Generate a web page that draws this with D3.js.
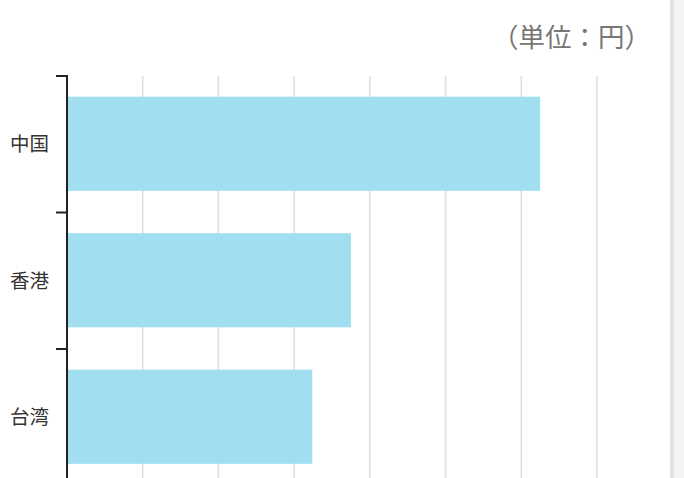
<!DOCTYPE html>
<html lang="ja">
<head>
    <meta charset="UTF-8">
    <title>単位：円</title>
    <script src="https://d3js.org/d3.v7.min.js"></script>
    <style>
        body { margin: 0; background: #fff; }
        svg { display: block; font-family: "Noto Sans CJK JP", "Noto Sans", sans-serif; }
    </style>
</head>
<body>
    <svg id="chart" width="684" height="478"></svg>
    <script>
        // Data
        const categories = ["中国", "香港", "台湾"];
        const values = [6250, 3750, 3240];
        const gridTicks = [1000, 2000, 3000, 4000, 5000, 6000, 7000];
        const unitLabel = "（単位：円）";

        const svg = d3.select("#chart");

        // Scales
        const xScale = d3.scaleLinear()
            .domain([0, 8000])
            .range([67, 672.7]);

        const yScale = d3.scaleBand()
            .domain(categories)
            .range([76, 485.5])
            .paddingInner(0.31)
            .paddingOuter(0.155);

        const step = yScale.step();
        const yTop = yScale.range()[0];

        // right side panel (page edge)
        svg.append("rect")
            .attr("x", 670)
            .attr("y", 0)
            .attr("width", 14)
            .attr("height", 478)
            .attr("fill", "#f4f4f4");
        svg.append("rect")
            .attr("x", 670)
            .attr("y", 0)
            .attr("width", 4)
            .attr("height", 478)
            .attr("fill", "#e2e2e2");

        // grid lines
        svg.selectAll(".grid")
            .data(gridTicks)
            .enter()
            .append("line")
            .attr("class", "grid")
            .attr("x1", d => xScale(d))
            .attr("x2", d => xScale(d))
            .attr("y1", yTop)
            .attr("y2", 478)
            .attr("stroke", "#e0e0e0")
            .attr("stroke-width", 1.6);

        // bars
        svg.selectAll(".bar")
            .data(categories)
            .enter()
            .append("rect")
            .attr("class", "bar")
            .attr("x", xScale(0) + 1)
            .attr("y", d => yScale(d) - 0.5)
            .attr("width", (d, i) => xScale(values[i]) - xScale(0) - 1)
            .attr("height", yScale.bandwidth())
            .attr("fill", "#a1dff0");

        // y axis line
        svg.append("line")
            .attr("x1", xScale(0))
            .attr("x2", xScale(0))
            .attr("y1", yTop - 1)
            .attr("y2", 478)
            .attr("stroke", "#222")
            .attr("stroke-width", 2);

        // boundary ticks between categories
        svg.selectAll(".tick")
            .data(d3.range(categories.length + 1))
            .enter()
            .append("line")
            .attr("class", "tick")
            .attr("x1", xScale(0) - 11)
            .attr("x2", xScale(0))
            .attr("y1", i => yTop + i * step)
            .attr("y2", i => yTop + i * step)
            .attr("stroke", "#222")
            .attr("stroke-width", 2);

        // category labels
        svg.selectAll(".label")
            .data(categories)
            .enter()
            .append("text")
            .attr("class", "label")
            .attr("x", 49)
            .attr("y", d => yScale(d) + yScale.bandwidth() / 2)
            .attr("dy", "0.36em")
            .attr("text-anchor", "end")
            .attr("font-size", "19.5px")
            .attr("fill", "#333")
            .text(d => d);

        // unit label
        svg.append("text")
            .attr("x", 651)
            .attr("y", 46.5)
            .attr("text-anchor", "end")
            .attr("font-size", "26.5px")
            .attr("fill", "#777")
            .text(unitLabel);
    </script>
</body>
</html>
